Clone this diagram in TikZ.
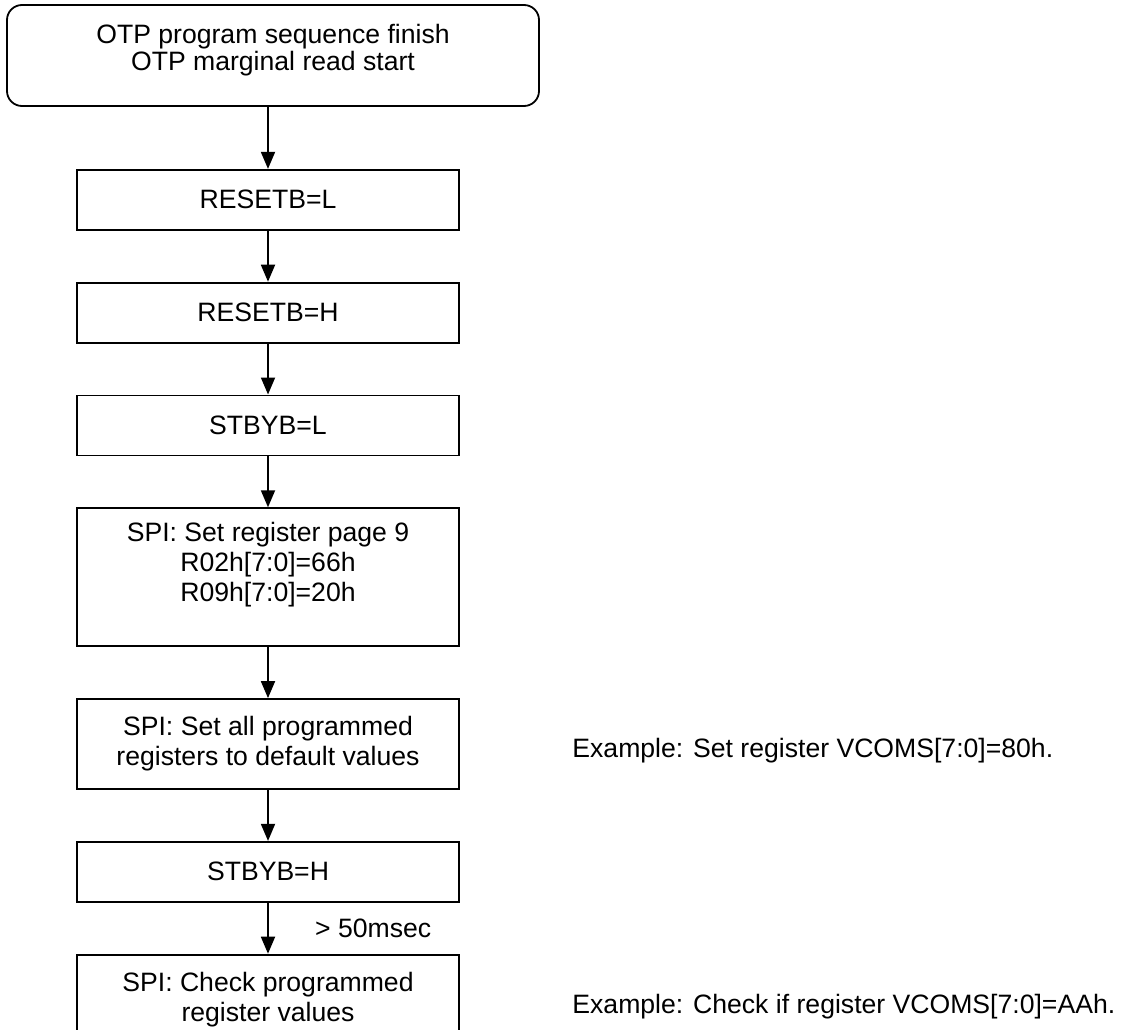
\documentclass[tikz,border=0pt]{standalone}
\usepackage{fontspec}
\setmainfont{Liberation Sans}
\usetikzlibrary{positioning,arrows.meta}

\begin{document}
\begin{tikzpicture}[
node distance=51pt,
font=\fontsize{26.6}{30}\selectfont,
box/.style={rectangle,draw=black,line width=1.8pt,
minimum width=382pt,minimum height=60pt,align=center},
startbox/.style={box,rounded corners=15pt,minimum width=532pt,minimum height=101pt,
font=\fontsize{26.6}{27}\selectfont},
arrow/.style={-{Triangle[length=17pt,width=14pt]},line width=1.8pt,draw=black},
note/.style={align=left}
]
\useasboundingbox (0pt,0pt) rectangle (1124pt,-1030pt);
\node[startbox] (start) at (273pt,-55.5pt) {OTP program sequence finish\\OTP marginal read start\\[-10pt]\mbox{}};
\node[box,below=62pt of start,xshift=-5pt] (resetL) {RESETB=L};
\node[box,below=of resetL] (resetH) {RESETB=H};
\node[box,below=of resetH] (stbyL) {STBYB=L};
\node[box,below=of stbyL,minimum height=138pt] (spipage) {SPI: Set register page 9\\R02h[7:0]=66h\\R09h[7:0]=20h\\\mbox{}};
\node[box,below=of spipage,minimum height=90pt] (spiall) {SPI: Set all programmed\\registers to default values};
\node[box,below=of spiall] (stbyH) {STBYB=H};
\node[box,below=of stbyH,minimum height=90pt] (check) {SPI: Check programmed\\register values};
\node[note,right=109pt of spiall,yshift=-7pt] (ex1) {Example: Set register VCOMS[7:0]=80h.};
\node[note,right=109pt of check,yshift=-7pt] (ex2) {Example: Check if register VCOMS[7:0]=AAh.};
\draw[arrow] (start.south -| resetL) -- (resetL);
\draw[arrow] (resetL)--(resetH); \draw[arrow] (resetH)--(stbyL); \draw[arrow] (stbyL)--(spipage);
\draw[arrow] (spipage)--(spiall); \draw[arrow] (spiall)--(stbyH);
\draw[arrow] (stbyH) -- node[right=43pt] (delay) {> 50msec} (check);
\end{tikzpicture}
\end{document}
